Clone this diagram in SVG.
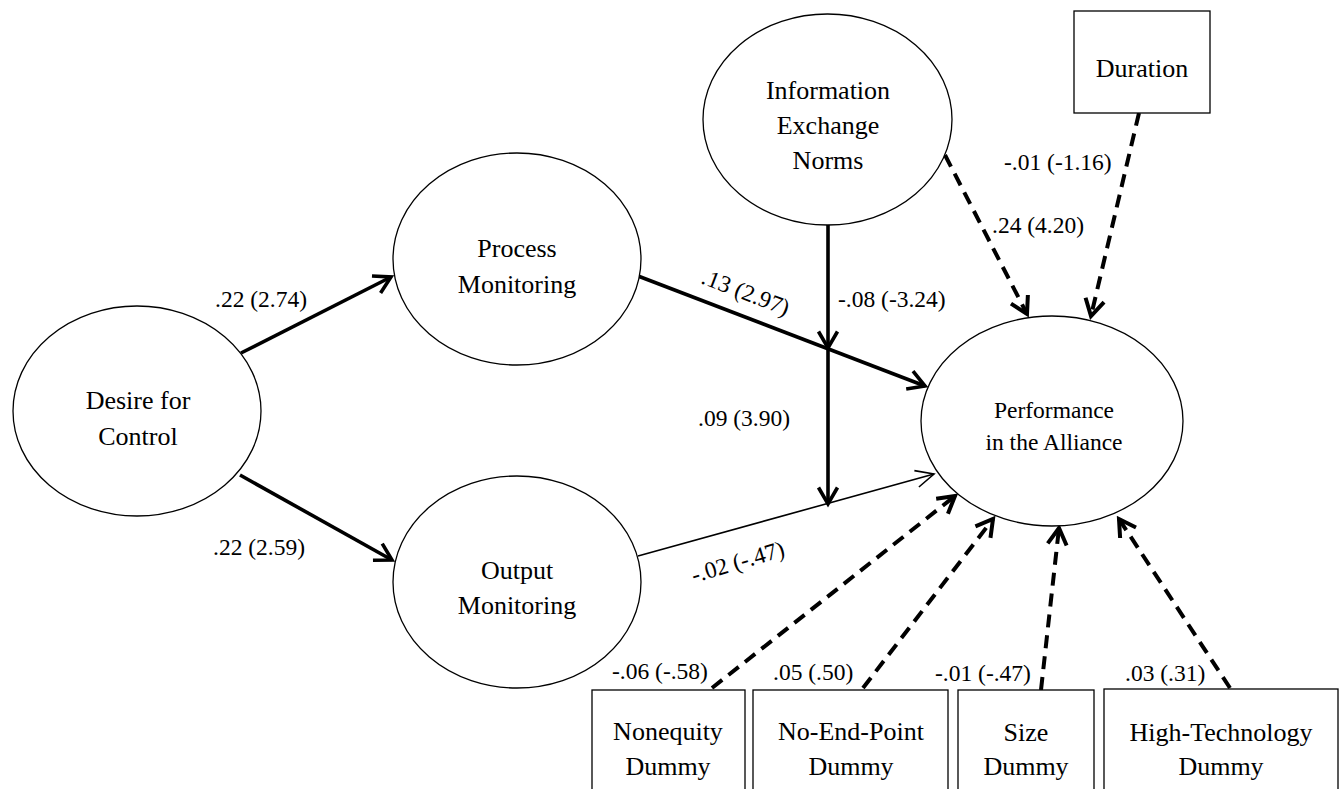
<svg xmlns="http://www.w3.org/2000/svg" width="1342" height="789" viewBox="0 0 1342 789" font-family="'Liberation Serif', 'Times New Roman', Times, serif">
<style>
text{font-family:'Liberation Serif','Times New Roman',Times,serif}
.node{fill:#fff;stroke:#000;stroke-width:1.3}
.nt{font-size:26px;fill:#000;text-anchor:middle}
.pt{font-size:23.5px;fill:#000;text-anchor:middle}
.lbl{font-size:23.5px;fill:#000}
.thick{stroke:#000;stroke-width:3.6;fill:none}
.thin{stroke:#000;stroke-width:1.6;fill:none}
.dash{stroke:#000;stroke-width:4;fill:none;stroke-dasharray:13 8}
</style>
<defs>
<marker id="ah" viewBox="0 0 24 24" refX="20" refY="12" markerWidth="24" markerHeight="24" markerUnits="userSpaceOnUse" orient="auto">
<path d="M3.5,2.5 L20,12 L3.5,21.5" fill="none" stroke="#000" stroke-width="3.6"/>
</marker>
<marker id="ahd" viewBox="0 0 24 24" refX="20" refY="12" markerWidth="24" markerHeight="24" markerUnits="userSpaceOnUse" orient="auto">
<path d="M3.5,2.5 L20,12 L3.5,21.5" fill="none" stroke="#000" stroke-width="4"/>
</marker>
<marker id="aht" viewBox="0 0 24 24" refX="21" refY="12" markerWidth="24" markerHeight="24" markerUnits="userSpaceOnUse" orient="auto">
<path d="M3,3.5 L21,12 L3,20.5" fill="none" stroke="#000" stroke-width="1.6"/>
</marker>
</defs>
<rect width="1342" height="789" fill="#fff"/>

<g id="connectors">
<line class="thick" x1="241" y1="353" x2="391" y2="277" marker-end="url(#ah)"/>
<line class="thick" x1="240" y1="475" x2="392" y2="560" marker-end="url(#ah)"/>
<line class="thick" x1="638" y1="276" x2="925" y2="386" marker-end="url(#ah)"/>
<line class="thick" x1="828" y1="225" x2="828" y2="348" marker-end="url(#ah)"/>
<line class="thick" x1="828" y1="348" x2="828" y2="504" marker-end="url(#ah)"/>
<line class="thin" x1="638" y1="556" x2="934" y2="474" marker-end="url(#aht)"/>
<line class="dash" x1="945" y1="155" x2="1027" y2="314" marker-end="url(#ahd)"/>
<line class="dash" x1="1139" y1="113" x2="1091" y2="316" marker-end="url(#ahd)"/>
<line class="dash" x1="712" y1="688" x2="955" y2="496" marker-end="url(#ahd)"/>
<line class="dash" x1="863" y1="688" x2="993" y2="519" marker-end="url(#ahd)"/>
<line class="dash" x1="1041" y1="690" x2="1059" y2="528" marker-end="url(#ahd)"/>
<line class="dash" x1="1230" y1="688" x2="1119" y2="519" marker-end="url(#ahd)"/>
</g>

<g id="labels">
<text class="lbl" x="215" y="307">.22 (2.74)</text>
<text class="lbl" x="213" y="555">.22 (2.59)</text>
<text class="lbl" x="700" y="283" transform="rotate(21 700 283)">.13 (2.97)</text>
<text class="lbl" x="838" y="307">-.08 (-3.24)</text>
<text class="lbl" x="698" y="426">.09 (3.90)</text>
<text class="lbl" x="694" y="583" transform="rotate(-16.5 694 583)">-.02 (-.47)</text>
<text class="lbl" x="992" y="233">.24 (4.20)</text>
<text class="lbl" x="1004" y="170">-.01 (-1.16)</text>
<text class="lbl" x="612" y="679">-.06 (-.58)</text>
<text class="lbl" x="773" y="680">.05 (.50)</text>
<text class="lbl" x="935" y="681">-.01 (-.47)</text>
<text class="lbl" x="1125" y="681">.03 (.31)</text>
</g>

<g id="desire">
<ellipse class="node" cx="137" cy="411" rx="124" ry="105"/>
<text class="nt" x="138" y="409">Desire for</text>
<text class="nt" x="138" y="445">Control</text>
</g>
<g id="process">
<ellipse class="node" cx="517" cy="259" rx="124" ry="106"/>
<text class="nt" x="517" y="257">Process</text>
<text class="nt" x="517" y="293">Monitoring</text>
</g>
<g id="output">
<ellipse class="node" cx="517" cy="582" rx="124" ry="106"/>
<text class="nt" x="517" y="579">Output</text>
<text class="nt" x="517" y="614">Monitoring</text>
</g>
<g id="info">
<ellipse class="node" cx="827.5" cy="119.5" rx="124.5" ry="105.5"/>
<text class="nt" x="828" y="99">Information</text>
<text class="nt" x="828" y="134">Exchange</text>
<text class="nt" x="828" y="169">Norms</text>
</g>
<g id="performance">
<ellipse class="node" cx="1052" cy="421" rx="131" ry="105"/>
<text class="pt" x="1054" y="418">Performance</text>
<text class="pt" x="1054" y="450">in the Alliance</text>
</g>
<g id="duration">
<rect class="node" x="1074" y="11" width="136" height="102"/>
<text class="nt" x="1142" y="77">Duration</text>
</g>
<g id="nonequity">
<rect class="node" x="592" y="690" width="153" height="110"/>
<text class="nt" x="668" y="740">Nonequity</text>
<text class="nt" x="668" y="775">Dummy</text>
</g>
<g id="noendpoint">
<rect class="node" x="753" y="690" width="195" height="110"/>
<text class="nt" x="851" y="740">No-End-Point</text>
<text class="nt" x="851" y="775">Dummy</text>
</g>
<g id="size">
<rect class="node" x="958" y="690" width="136" height="110"/>
<text class="nt" x="1026" y="741">Size</text>
<text class="nt" x="1026" y="775">Dummy</text>
</g>
<g id="hightech">
<rect class="node" x="1104" y="689" width="234" height="111"/>
<text class="nt" x="1221" y="741">High-Technology</text>
<text class="nt" x="1221" y="775">Dummy</text>
</g>
</svg>
